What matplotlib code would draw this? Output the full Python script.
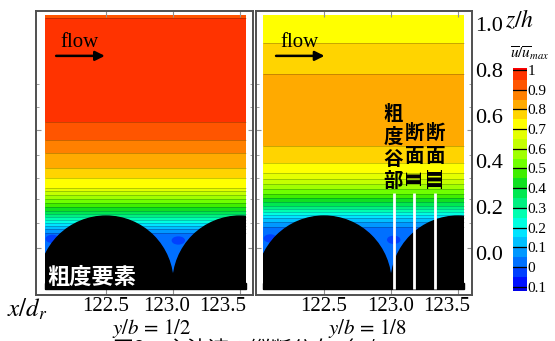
import matplotlib
matplotlib.use("Agg")
import matplotlib.pyplot as plt
import matplotlib.transforms as mtransforms
import numpy as np
from matplotlib.colors import ListedColormap, BoundaryNorm
from matplotlib.patches import Ellipse, Rectangle

plt.rcParams["mathtext.fontset"] = "stix"
SERIF = "Liberation Serif"
CJK = ["Noto Sans CJK JP", "DejaVu Sans"]

# u/u_max contour levels (0.05 bands) and band colours
bounds = np.round(np.arange(-0.15, 1.0501, 0.05), 2)
band_colors = [
    "#0000e8", "#0010ff", "#0040ff", "#0070ff", "#0098ff", "#00c0ff",
    "#00e4ff", "#00ffe0", "#00ffb0", "#00f080", "#00e850", "#10e020",
    "#40ee00", "#70ff00", "#a0ff00", "#c4ff00", "#e4ff00", "#ffff00",
    "#ffd400", "#ffaa00", "#ff8000", "#ff5500", "#ff3300", "#ff0000",
]
cb_ticks = np.round(np.arange(-0.1, 1.0001, 0.1), 1)

# heights z/h where each contour level sits
half_z = [-0.17, 0.06, 0.087, 0.105, 0.118, 0.131, 0.144, 0.157, 0.170,
          0.183, 0.201, 0.218, 0.236, 0.253, 0.271, 0.285, 0.328, 0.371,
          0.437, 0.493, 0.572, 0.80, 1.00, 1.025, 1.05]
half_u = [0.02, 0.03, 0.05, 0.10, 0.15, 0.20, 0.25, 0.30, 0.35, 0.40,
          0.45, 0.50, 0.55, 0.60, 0.65, 0.70, 0.75, 0.80, 0.85, 0.90,
          0.95, 0.985, 0.98, 0.95, 0.93]
eighth_z = [-0.17, 0.08, 0.114, 0.135, 0.153, 0.166, 0.179, 0.192, 0.205,
            0.223, 0.240, 0.258, 0.279, 0.301, 0.323, 0.349, 0.393, 0.467,
            0.62, 0.782, 0.917, 1.05]
eighth_u = [0.02, 0.03, 0.05, 0.10, 0.15, 0.20, 0.25, 0.30, 0.35, 0.40,
            0.45, 0.50, 0.55, 0.60, 0.65, 0.70, 0.75, 0.80, 0.84, 0.80,
            0.75, 0.71]

# recirculation pockets (x/d_r, z/h)
half_pockets = [(122.10, 0.062), (123.04, 0.055)]
eighth_pockets = [(122.10, 0.064), (123.02, 0.058)]

# roughness elements (centres in x/d_r), section lines in y/b=1/8 panel
rough_x = [122.5, 123.5]
rough_zc = -0.131
section_x = [123.022, 123.172, 123.328]

x_ticks = [122.5, 123.0, 123.5]
z_ticks = [0.0, 0.2, 0.4, 0.6, 0.8, 1.0]

x_in = (122.045, 123.545)
z_in = (-0.162, 1.039)

cmap = ListedColormap(band_colors)
norm = BoundaryNorm(bounds, cmap.N)

W, H = 555, 341
fig = plt.figure(figsize=(W / 100, H / 100), dpi=100)


def px_axes(x0, y0, x1, y1):
    return fig.add_axes([x0 / W, 1 - y1 / H, (x1 - x0) / W, (y1 - y0) / H])


def draw_panel(ax, zp, up, pockets, xlim, label_shift):
    x = np.linspace(*x_in, 40)
    z = np.linspace(*z_in, 500)
    U = np.tile(np.interp(z, zp, up)[:, None], (1, len(x)))
    X, Z = np.meshgrid(x, z)
    ax.contourf(X, Z, U, levels=bounds, cmap=cmap, norm=norm, zorder=1)
    ax.contour(X, Z, U, levels=bounds[2:-1], colors="k", linewidths=0.5,
               alpha=0.3, zorder=2)
    for px, pz in pockets:
        ax.add_patch(Ellipse((px, pz), 0.09, 0.03,
                             color=cmap(norm(-0.03)), zorder=2))
    clip = Rectangle((x_in[0], z_in[0]), x_in[1] - x_in[0],
                     z_in[1] - z_in[0], transform=ax.transData)
    for cx in rough_x:
        e = Ellipse((cx, rough_zc), 1.0, 0.585, color="k", zorder=3)
        ax.add_patch(e)
        e.set_clip_path(clip)
    ax.add_patch(Rectangle((x_in[0], z_in[0] + 0.004), x_in[1] - x_in[0],
                           rough_zc - z_in[0] - 0.004, color="k", zorder=3))
    ax.set_xlim(*xlim)
    ax.set_ylim(-0.183, 1.057)
    for s in ax.spines.values():
        s.set_color("#505050")
        s.set_linewidth(1.4)
    ax.set_xticks(x_ticks)
    ax.tick_params(axis="x", direction="in", top=True, length=4,
                   color="#909090", labelbottom=False)
    # tick labels, nudged like in the source figure
    for v, dx in zip(x_ticks, label_shift):
        tr = ax.get_xaxis_transform() + mtransforms.ScaledTranslation(
            dx / 100, 0, fig.dpi_scale_trans)
        ax.text(v, -0.006, f"{v:.1f}", transform=tr, ha="center", va="top",
                fontfamily=SERIF, fontsize=15)
    ax.set_yticks([0.022, 0.537])
    ax.set_yticks([0.13, 0.235, 0.33, 0.43, 0.64, 0.74], minor=True)
    ax.tick_params(axis="y", which="both", direction="in", left=True,
                   right=True, color="#909090", labelleft=False)
    ax.tick_params(axis="y", which="minor", length=2)
    # flow arrow
    ax.annotate("", xy=(0.33, 0.842), xytext=(0.08, 0.842),
                xycoords="axes fraction",
                arrowprops=dict(arrowstyle="-|>", color="k", lw=1.8,
                                mutation_scale=14), zorder=5)
    ax.text(0.2, 0.855, "flow", transform=ax.transAxes, ha="center",
            va="bottom", fontfamily=SERIF, fontsize=15, zorder=5)


ax1 = px_axes(36, 11, 253, 295)
draw_panel(ax1, half_z, half_u, half_pockets, (121.978, 123.597),
           [0, -6, -17])
ax1.text(0.05, 0.063, "粗度要素", transform=ax1.transAxes, color="white",
         fontsize=16, fontweight="bold", family=CJK, va="center", zorder=6)

ax2 = px_axes(256, 11, 472, 295)
draw_panel(ax2, eighth_z, eighth_u, eighth_pockets, (121.993, 123.604),
           [0, 0, -11])
for sx in section_x:
    ax2.plot([sx, sx], [0.262, -0.157], color="white", lw=2, zorder=6,
             solid_capstyle="butt")
columns = [
    (0.634, ["粗", "度", "谷", "部"], [0.637, 0.556, 0.475, 0.398]),
    (0.736, ["断", "面", "Ⅱ"], [0.570, 0.486, 0.415]),
    (0.833, ["断", "面", "Ⅲ"], [0.570, 0.486, 0.415]),
]
for cx, chars, ys in columns:
    for ch, cy in zip(chars, ys):
        if ch in ("Ⅱ", "Ⅲ"):
            ax2.text(cx, cy, ch, transform=ax2.transAxes, ha="center",
                     va="center", fontsize=15, fontweight="bold",
                     family=["DejaVu Serif", "Noto Sans CJK JP"],
                     rotation=90, zorder=7)
        else:
            ax2.text(cx, cy, ch, transform=ax2.transAxes, ha="center",
                     va="center", fontsize=14, fontweight="bold", family=CJK,
                     zorder=7)

# z/h labels on the right of the second panel
rax = ax2.secondary_yaxis("right")
rax.set_yticks(z_ticks)
rax.set_yticklabels([f"{v:.1f}" for v in z_ticks], fontfamily=SERIF,
                    fontsize=16)
rax.tick_params(length=0, pad=2)
rax.spines["right"].set_visible(False)

# colour bar
cax = px_axes(513, 68, 527, 291)
for lo, hi, c in zip(bounds[:-1], bounds[1:], band_colors):
    cax.axhspan(lo, hi, color=c, lw=0)
for t in cb_ticks:
    cax.axhline(t, color="k", lw=0.9)
cax.set_ylim(-0.122, 1.01)
cax.set_xlim(0, 1)
cax.set_xticks([])
cax.yaxis.tick_right()
cax.set_yticks(cb_ticks)
cax.set_yticklabels([f"{abs(v):g}" for v in cb_ticks], fontfamily=SERIF,
                    fontsize=11)
cax.tick_params(axis="y", length=0, pad=0.5)
for s in cax.spines.values():
    s.set_visible(False)

fig.text(530 / W, 1 - 53 / H, r"$\overline{u}/\overline{u}_{max}$",
         ha="center", va="center", fontsize=11)
fig.text(505 / W, 1 - 20 / H, r"$z/h$", ha="left", va="center", fontsize=17)
fig.text(27 / W, 1 - 309 / H, r"$x/d_r$", ha="center", va="center",
         fontsize=18)
fig.text(152 / W, 1 - 328 / H, r"$y/b\,=\,1/2$", ha="center", va="center",
         fontsize=15)
fig.text(367 / W, 1 - 328 / H, r"$y/b\,=\,1/8$", ha="center", va="center",
         fontsize=15)
fig.text(113 / W, 1 - 339 / H, "図2　主流速の縦断分布（u/u", ha="left",
         va="top", fontsize=15, family=CJK)

fig.savefig("out.png", dpi=100)
